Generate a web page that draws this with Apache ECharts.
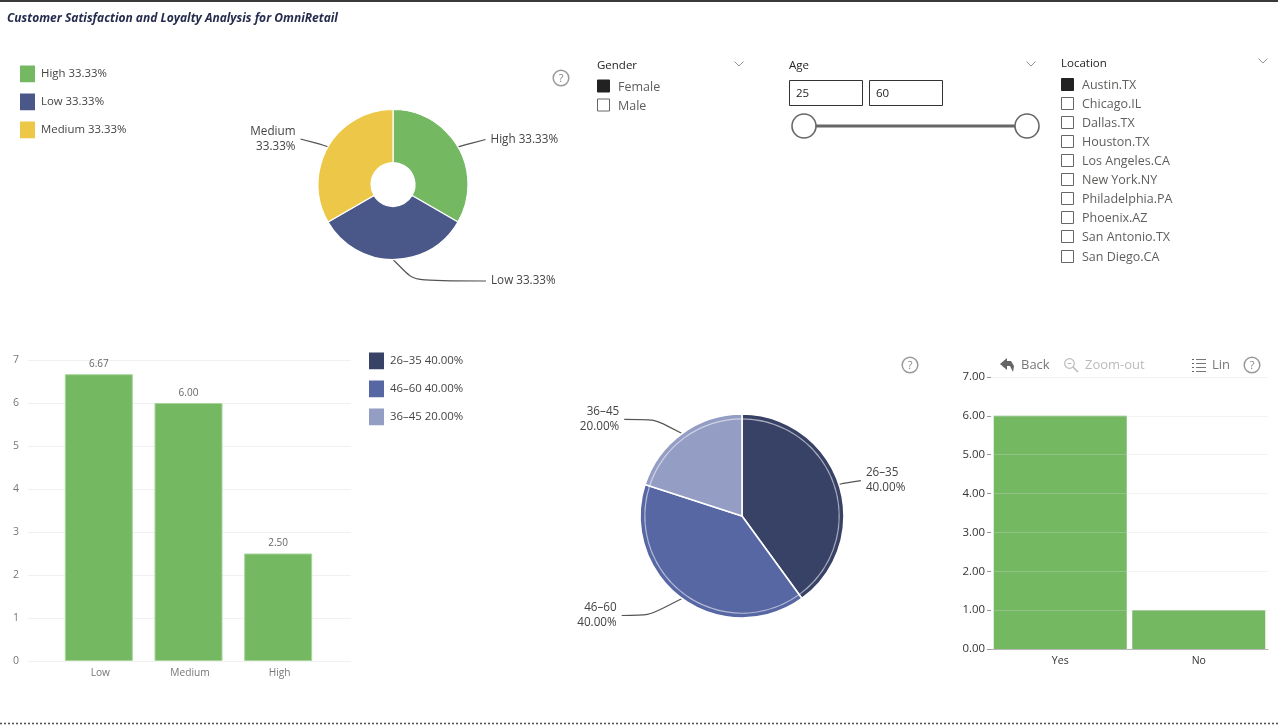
<!DOCTYPE html>
<html>
<head>
<meta charset="utf-8">
<style>
  html, body { margin: 0; padding: 0; background: #fff; }
  #main { width: 1278px; height: 726px; }
</style>
<script src="https://cdn.jsdelivr.net/npm/echarts@6/dist/echarts.min.js"></script>
</head>
<body>
<div id="main"></div>
<script>
var FONT = '"Open Sans", "Noto Sans", sans-serif';

var titleText = 'Customer Satisfaction and Loyalty Analysis for OmniRetail';

// satisfaction share
var satisfactionNames = ['High', 'Low', 'Medium'];
var satisfactionShares = [33.33, 33.33, 33.33];
var satisfactionColors = ['#74B862', '#4A5789', '#EDC747'];

// average score per satisfaction level
var scoreNames = ['Low', 'Medium', 'High'];
var scoreValues = [6.67, 6.00, 2.50];

// age group share
var ageNames = ['26–35', '46–60', '36–45'];
var ageShares = [40.00, 40.00, 20.00];
var ageColors = ['#384166', '#5767A4', '#949DC4'];
var agePale = ['rgba(255,255,255,0.55)', 'rgba(255,255,255,0.55)', 'rgba(255,255,255,0.55)'];

// loyalty
var loyaltyNames = ['Yes', 'No'];
var loyaltyValues = [6, 1];

// slicers
var genderItems = ['Female', 'Male'];
var ageRange = ['25', '60'];
var locationItems = ['Austin.TX', 'Chicago.IL', 'Dallas.TX', 'Houston.TX', 'Los Angeles.CA',
  'New York.NY', 'Philadelphia.PA', 'Phoenix.AZ', 'San Antonio.TX', 'San Diego.CA'];
var locationRows = [84, 103, 122, 141, 160, 179, 198, 217, 236, 256];

var GREEN = '#74B862';

// leader line lengths for the two pies
var satisfactionLeaders = [
  { length: 15, length2: 14.6 },
  { length: 21.5, length2: 93 },
  { length: 16, length2: 13.7 }
];
var ageLeaders = [
  { length: 12.5, length2: 10 },
  { length: 21, length2: 48 },
  { length: 17.5, length2: 47.5 }
];

function pct(value) {
  return value.toFixed(2) + '%';
}

function pieData(names, values, colors, leaders) {
  return names.map(function (name, i) {
    var item = { name: name, value: values[i], itemStyle: { color: colors[i] } };
    if (leaders) item.labelLine = leaders[i];
    return item;
  });
}

function lookup(names, values, name) {
  return values[names.indexOf(name)];
}

function text(x, y, str, size, color, extra) {
  return {
    type: 'text', x: x, y: y, silent: true,
    style: Object.assign({
      text: str, font: size + 'px ' + FONT, fill: color, verticalAlign: 'middle'
    }, extra || {})
  };
}

function box(x, y, size, checked) {
  return {
    type: 'rect', silent: true,
    shape: { x: x + 0.5, y: y + 0.5, width: size, height: size },
    style: { fill: checked ? '#222' : '#fff', stroke: checked ? '#222' : '#666', lineWidth: 1 }
  };
}

function chevron(x, y) {
  return {
    type: 'polyline', silent: true,
    shape: { points: [[x - 4.5, y - 2.5], [x, y + 2], [x + 4.5, y - 2.5]] },
    style: { stroke: '#888', fill: null, lineWidth: 0.9 }
  };
}

function helpIcon(x, y) {
  return [
    { type: 'circle', silent: true, shape: { cx: x, cy: y, r: 7.8 }, style: { fill: '#fff', stroke: '#999', lineWidth: 1.5 } },
    text(x, y + 0.5, '?', 11, '#888', { align: 'center' })
  ];
}

var graphics = [];

// page frame
graphics.push({ type: 'rect', silent: true, shape: { x: 0, y: 0, width: 1278, height: 2 }, style: { fill: '#3a3a3a' } });
graphics.push({ type: 'line', silent: true, shape: { x1: 0, y1: 723.5, x2: 1278, y2: 723.5 },
  style: { stroke: '#555', lineWidth: 1.6, lineDash: [2, 2] } });

graphics.push(text(7, 18.5, titleText, 12, '#252C4D', { font: 'italic bold 12px ' + FONT }));

// gender slicer
graphics.push(text(597, 66, 'Gender', 11.5, '#252423'));
graphics.push(chevron(739, 64));
genderItems.forEach(function (item, i) {
  var y = 86 + i * 19;
  graphics.push(box(597, y - 6.5, 12, i === 0));
  graphics.push(text(618, y + 1, item, 12.5, '#605E5C'));
});

// age slicer
graphics.push(text(789, 66, 'Age', 11.5, '#252423'));
graphics.push(chevron(1031, 64));
[789, 869].forEach(function (x, i) {
  graphics.push({ type: 'rect', silent: true, shape: { x: x + 0.5, y: 80.5, width: 73, height: 25 },
    style: { fill: '#fff', stroke: '#333', lineWidth: 1 } });
  graphics.push(text(x + 7, 94, ageRange[i], 11.5, '#252423'));
});
graphics.push({ type: 'line', silent: true, shape: { x1: 804, y1: 126, x2: 1027, y2: 126 }, style: { stroke: '#666', lineWidth: 3 } });
[804, 1027].forEach(function (x) {
  graphics.push({ type: 'circle', silent: true, shape: { cx: x, cy: 126, r: 12 }, style: { fill: '#fff', stroke: '#666', lineWidth: 1.6 } });
});

// location slicer
graphics.push(text(1061, 64, 'Location', 11.5, '#252423'));
graphics.push(chevron(1263, 61));
locationItems.forEach(function (item, i) {
  graphics.push(box(1061, locationRows[i] - 6, 12, i === 0));
  graphics.push(text(1082, locationRows[i] + 1, item, 12.5, '#605E5C'));
});

// help icons
graphics = graphics.concat(helpIcon(561, 78), helpIcon(910, 365), helpIcon(1252, 365));

// drill toolbar
graphics.push({ type: 'polygon', silent: true,
  shape: { points: [[1000, 364], [1007, 358], [1007, 361], [1011, 361], [1014, 366], [1013, 372], [1010, 366], [1007, 366], [1007, 370]] },
  style: { fill: '#666' } });
graphics.push(text(1021, 365.5, 'Back', 13, '#777'));
graphics.push({ type: 'circle', silent: true, shape: { cx: 1069.5, cy: 363.5, r: 4.8 }, style: { fill: '#fff', stroke: '#bbb', lineWidth: 1.2 } });
graphics.push({ type: 'line', silent: true, shape: { x1: 1067.5, y1: 363.5, x2: 1071.5, y2: 363.5 }, style: { stroke: '#bbb', lineWidth: 1 } });
graphics.push({ type: 'line', silent: true, shape: { x1: 1073, y1: 367, x2: 1078, y2: 372 }, style: { stroke: '#bbb', lineWidth: 1.6 } });
graphics.push(text(1085, 365.5, 'Zoom-out', 13, '#bbb'));
[359, 363, 367, 371].forEach(function (y) {
  graphics.push({ type: 'line', silent: true, shape: { x1: 1192, y1: y + 0.5, x2: 1194, y2: y + 0.5 }, style: { stroke: '#666', lineWidth: 1 } });
  graphics.push({ type: 'line', silent: true, shape: { x1: 1196, y1: y + 0.5, x2: 1206, y2: y + 0.5 }, style: { stroke: '#777', lineWidth: 1 } });
});
graphics.push(text(1212, 365.5, 'Lin', 13, '#777'));

var legendText = { color: '#444', fontFamily: FONT, fontSize: 11.4 };
var pieLabel = { color: '#444', fontFamily: FONT, fontSize: 11.7, lineHeight: 15 };
var leaderLine = { show: true, smooth: 1, lineStyle: { color: '#555', width: 1.2 } };

var chart = echarts.init(document.getElementById('main'));
chart.setOption({
  animation: false,
  backgroundColor: '#fff',
  tooltip: { show: false },
  graphic: graphics,
  legend: [
    {
      orient: 'vertical', left: 18, top: 63.6, padding: 0, itemWidth: 17, itemHeight: 18.75, itemGap: 7.25,
      selectedMode: false, icon: 'rect', data: satisfactionNames, textStyle: legendText,
      formatter: function (name) {
        return name + ' ' + pct(lookup(satisfactionNames, satisfactionShares, name));
      }
    },
    {
      orient: 'vertical', left: 367, top: 350.6, padding: 0, itemWidth: 17, itemHeight: 18.75, itemGap: 7.25,
      selectedMode: false, icon: 'rect', data: ageNames, textStyle: legendText,
      formatter: function (name) {
        return name + ' ' + pct(lookup(ageNames, ageShares, name));
      }
    }
  ],
  grid: [
    { left: 28, width: 323, top: 360, height: 301 },  // gridlines, wider than the bars
    { left: 54, width: 269, top: 360, height: 301 },
    { left: 991, width: 277, top: 377, height: 272 }
  ],
  xAxis: [
    { type: 'category', gridIndex: 0, data: scoreNames, show: false },
    {
      type: 'category', gridIndex: 1, data: scoreNames,
      axisLine: { show: false }, axisTick: { show: false },
      axisLabel: { color: '#777', fontFamily: FONT, fontSize: 10.2, margin: 7, padding: [0, 0, 0, 3] }
    },
    {
      type: 'category', gridIndex: 2, data: loyaltyNames,
      axisLine: { show: true, lineStyle: { color: '#aaa' } }, axisTick: { show: false },
      axisLabel: { color: '#333', fontFamily: FONT, fontSize: 10.5, margin: 7 }
    }
  ],
  yAxis: [
    {
      type: 'value', gridIndex: 0, min: 0, max: 7, interval: 1,
      axisLine: { show: false }, axisTick: { show: false },
      axisLabel: { color: '#777', fontFamily: FONT, fontSize: 10.5, margin: 9, padding: [4, 0, 0, 0] },
      splitLine: { lineStyle: { color: '#F1F1F1', width: 1 } }
    },
    { type: 'value', gridIndex: 1, min: 0, max: 7, interval: 1, show: false, splitLine: { show: false } },
    {
      type: 'value', gridIndex: 2, min: 0, max: 7, interval: 1, z: 3,
      axisLine: { show: false },
      axisTick: { show: true, length: 4, lineStyle: { color: '#999' } },
      axisLabel: { color: '#333', fontFamily: FONT, fontSize: 11.4, margin: 6, padding: [3, 0, 0, 0],
        formatter: function (v) { return v.toFixed(2); } },
      splitLine: { lineStyle: { color: 'rgba(215,215,215,0.3)', width: 1 } }
    }
  ],
  series: [
    {
      type: 'pie', name: 'Satisfaction', center: [393, 184.5], radius: [22, 75], startAngle: 90, silent: true,
      data: pieData(satisfactionNames, satisfactionShares, satisfactionColors, satisfactionLeaders),
      itemStyle: { borderColor: '#fff', borderWidth: 1.2 },
      label: Object.assign({}, pieLabel, {
        formatter: function (p) {
          return p.name + (p.name === 'Medium' ? '\n' : ' ') + pct(p.value);
        }
      }),
      labelLine: leaderLine
    },
    {
      type: 'pie', name: 'Age', center: [742, 516], radius: [0, 102], startAngle: 90, silent: true,
      data: pieData(ageNames, ageShares, ageColors, ageLeaders),
      itemStyle: { borderColor: '#fff', borderWidth: 1.6 },
      label: Object.assign({}, pieLabel, {
        formatter: function (p) { return p.name + '\n' + pct(p.value); }
      }),
      labelLine: leaderLine
    },
    {
      // pale ring just inside the rim
      type: 'pie', name: 'AgeRing', center: [742, 516], radius: [96.6, 97.8], startAngle: 90, silent: true,
      data: pieData(ageNames, ageShares, agePale),
      label: { show: false }, labelLine: { show: false }
    },
    {
      type: 'bar', name: 'Score', xAxisIndex: 1, yAxisIndex: 1, barWidth: 68, data: scoreValues, silent: true,
      itemStyle: { color: GREEN, borderColor: '#A6D69A', borderWidth: 1 },
      label: { show: true, position: 'top', distance: 5, color: '#666', fontFamily: FONT, fontSize: 10,
        formatter: function (p) { return p.value.toFixed(2); } }
    },
    {
      type: 'bar', name: 'Loyalty', xAxisIndex: 2, yAxisIndex: 2, barWidth: 133, data: loyaltyValues, silent: true,
      itemStyle: { color: GREEN }
    }
  ]
});
</script>
</body>
</html>
